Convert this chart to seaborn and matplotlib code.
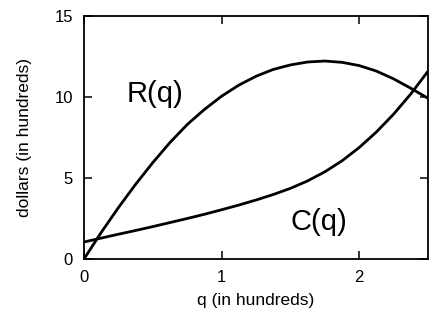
import matplotlib
matplotlib.use("Agg")
import matplotlib.pyplot as plt
import seaborn as sns
import pandas as pd

# Data (q in hundreds, dollars in hundreds)
q_vals = [0.0, 0.125, 0.25, 0.375, 0.5, 0.625, 0.75, 0.875, 1.0, 1.125, 1.25,
          1.375, 1.5, 1.625, 1.75, 1.875, 2.0, 2.125, 2.25, 2.375, 2.5]
revenue = [0.0, 1.64, 3.17, 4.61, 5.95, 7.19, 8.30, 9.23, 10.05, 10.73, 11.28,
           11.70, 11.98, 12.16, 12.22, 12.14, 11.94, 11.60, 11.12, 10.54, 9.92]
cost = [1.05, 1.29, 1.53, 1.76, 2.00, 2.25, 2.50, 2.76, 3.04, 3.33, 3.64,
        3.98, 4.36, 4.82, 5.38, 6.06, 6.88, 7.84, 8.94, 10.19, 11.59]

x_ticks = [0, 1, 2]
y_ticks = [0, 5, 10, 15]

sns.set_style("ticks")
plt.rcParams["font.family"] = ["Liberation Sans", "DejaVu Sans"]
plt.rcParams.update({"text.color": "black", "axes.labelcolor": "black",
                     "xtick.color": "black", "ytick.color": "black",
                     "lines.solid_joinstyle": "round"})

df = pd.DataFrame({"q": q_vals, "R": revenue, "C": cost})

fig = plt.figure(figsize=(4.29, 3.18), dpi=100)
ax = fig.add_axes([84 / 429, 1 - 259 / 318, 344 / 429, 243 / 318])

sns.lineplot(data=df, x="q", y="R", color="black", linewidth=2.0, ax=ax)
sns.lineplot(data=df, x="q", y="C", color="black", linewidth=2.0, ax=ax)

ax.set_xlim(0, 2.5)
ax.set_ylim(0, 15)
ax.set_xticks(x_ticks)
ax.set_yticks(y_ticks)
ax.set_xticklabels([str(t) for t in x_ticks])
ax.set_yticklabels([str(t) for t in y_ticks])

for s in ax.spines.values():
    s.set_visible(True)
    s.set_linewidth(1.3)
    s.set_color("black")

ax.tick_params(direction="in", length=6, width=1.1, top=True, right=True,
               labelsize=12, pad=8, colors="black")

ax.set_xlabel("q (in hundreds)", fontsize=12.5)
ax.set_ylabel("dollars (in hundreds)", fontsize=12.5)
ax.xaxis.set_label_coords(0.5, -0.14)
ax.yaxis.set_label_coords(-0.15, 0.5)

ax.text(0.31, 9.71, "R(q)", fontsize=21, ha="left", va="baseline")
ax.text(1.5, 1.79, "C(q)", fontsize=21, ha="left", va="baseline")

fig.savefig("out.png", dpi=100)
